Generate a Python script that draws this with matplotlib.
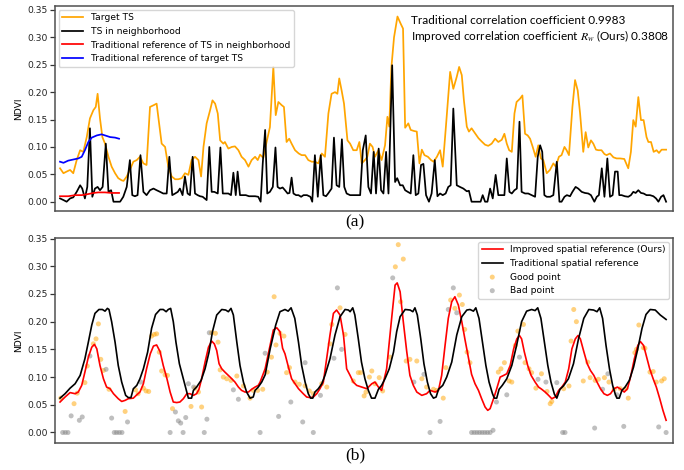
import matplotlib
matplotlib.use("Agg")
import matplotlib.pyplot as plt

# ---------------- data (time index, NDVI) ----------------
target_ts = [(0,0.061),(1.3,0.052),(2.5,0.055),(3.8,0.058),(5.0,0.052),(6.3,0.076),(7.6,0.094),(8.8,0.091),
 (10.1,0.118),(11.3,0.152),(12.6,0.167),(13.5,0.173),(14.2,0.197),(15.1,0.152),(16.0,0.118),(17.0,0.106),
 (18.3,0.082),(19.5,0.064),(20.8,0.052),(22.0,0.043),(23.3,0.039),(24.0,0.038),(25.2,0.046),(26.4,0.058),
 (27.7,0.073),(29.0,0.076),(30.2,0.082),(31.5,0.070),(32.7,0.067),(34.0,0.173),(35.3,0.176),(36.5,0.179),
 (38.4,0.106),(39.7,0.100),(40.9,0.064),(42.2,0.046),(43.5,0.041),(44.7,0.041),(46.0,0.043),(47.2,0.052),
 (48.5,0.049),(49.7,0.076),(51.0,0.082),(52.3,0.076),(53.3,0.046),(54.2,0.100),(55.4,0.143),(56.7,0.167),
 (57.6,0.185),(58.6,0.179),(59.6,0.161),(60.5,0.112),(61.7,0.106),(62.3,0.109),(63.6,0.097),(64.9,0.100),
 (66.1,0.101),(67.4,0.094),(68.6,0.082),(69.9,0.076),(71.2,0.064),(72.4,0.076),(73.7,0.082),(74.7,0.076),
 (75.6,0.086),(76.8,0.080),(78.1,0.110),(79.3,0.136),(80.6,0.246),(81.5,0.158),(82.5,0.182),(83.8,0.176),
 (84.6,0.173),(85.6,0.109),(86.6,0.115),(87.5,0.106),(88.8,0.094),(90.2,0.088),(91.3,0.085),(92.6,0.085),
 (93.8,0.076),(95.1,0.073),(96.3,0.073),(97.6,0.070),(98.9,0.088),(100.1,0.082),(101.4,0.161),(102.6,0.197),
 (103.9,0.200),(104.8,0.197),(105.5,0.225),(106.4,0.203),(107.3,0.179),(108.6,0.112),(109.6,0.106),
 (110.8,0.094),(112.1,0.094),(113.1,0.109),(114.0,0.070),(115.2,0.076),(116.1,0.082),(117.1,0.106),
 (118.1,0.100),(119.0,0.082),(120.3,0.094),(121.5,0.076),(122.8,0.103),(123.7,0.155),(124.4,0.137),
 (125.2,0.245),(126.2,0.300),(127.5,0.338),(128.7,0.325),(129.6,0.316),(130.4,0.135),(131.6,0.143),
 (132.5,0.131),(133.8,0.129),(134.8,0.128),(135.8,0.070),(136.7,0.095),(137.7,0.085),(139.0,0.082),
 (140.2,0.076),(141.1,0.073),(142.4,0.082),(143.6,0.094),(144.6,0.064),(145.8,0.137),(147.4,0.237),
 (148.6,0.206),(149.9,0.228),(150.8,0.246),(151.8,0.231),(152.6,0.185),(153.7,0.137),(154.5,0.128),
 (155.5,0.134),(156.8,0.125),(158.1,0.116),(159.3,0.110),(160.6,0.104),(161.8,0.102),(163.1,0.106),
 (164.4,0.115),(165.6,0.109),(166.9,0.113),(167.9,0.124),(168.8,0.106),(169.7,0.094),(170.7,0.091),
 (171.7,0.161),(172.5,0.182),(173.8,0.188),(174.7,0.194),(175.7,0.124),(176.7,0.121),(177.6,0.115),
 (178.6,0.100),(179.7,0.082),(180.7,0.103),(181.7,0.079),(182.6,0.076),(183.9,0.052),(185.1,0.058),
 (186.4,0.070),(187.3,0.064),(188.5,0.082),(189.5,0.085),(190.6,0.100),(191.4,0.094),(192.3,0.085),
 (193.6,0.173),(194.6,0.222),(195.6,0.203),(196.5,0.161),(197.7,0.091),(198.6,0.127),(199.6,0.099),
 (200.6,0.112),(201.5,0.106),(202.5,0.095),(203.4,0.094),(204.6,0.094),(205.7,0.087),(206.5,0.085),
 (207.8,0.088),(209.1,0.081),(210.3,0.079),(211.6,0.079),(213.2,0.078),(214.7,0.061),(215.7,0.091),
 (216.6,0.149),(217.5,0.137),(218.5,0.191),(219.5,0.149),(220.5,0.149),(221.6,0.118),(222.3,0.109),
 (223.3,0.109),(224.3,0.091),(225.4,0.094),(226.3,0.089),(227.3,0.095),(229.0,0.095)]

neighbor_ts = [(0,0.006),(1.3,0.003),(2.5,0),(3.8,0.006),(5.0,0.008),(6.3,0.018),(7.6,0.030),(8.4,0.024),
 (9.4,0.006),(10.3,0.027),(11.3,0.134),(12.2,0.009),(13.2,0.024),(14.2,0.027),(15.1,0.021),(16.1,0.027),
 (17.3,0.106),(18.3,0.018),(19.3,0.021),(20.2,0),(21.4,0),(22.7,0),(23.9,0.009),(25.2,0.027),(26.4,0.076),
 (27.3,0.012),(28.3,0.010),(29.3,0.012),(30.4,0.085),(31.5,0.018),(32.7,0.012),(34.0,0.021),(35.3,0.024),
 (36.5,0.021),(37.8,0.018),(39.0,0.015),(40.3,0.015),(41.3,0.082),(42.4,0.012),(43.5,0.015),(44.5,0.018),
 (45.3,0.024),(46.3,0.012),(47.2,0.046),(48.2,0.015),(49.1,0.012),(50.1,0.082),(51.0,0.015),(52.0,0.012),
 (52.9,0.010),(53.9,0.009),(55.4,0.003),(56.4,0.100),(57.3,0.018),(58.3,0.018),(59.6,0.015),(60.6,0.099),
 (61.5,0.015),(62.6,0.015),(63.6,0.015),(64.6,0.012),(65.5,0.053),(66.4,0.012),(67.1,0.055),(68.0,0.012),
 (69.0,0.012),(70.2,0.012),(71.4,0.010),(72.7,0.010),(73.7,0.010),(74.9,0.009),(75.8,0),(76.6,0.070),
 (77.5,0.131),(78.3,0.015),(79.3,0.018),(80.4,0.027),(81.4,0.099),(82.2,0.027),(83.1,0.024),(84.1,0.026),
 (85.0,0.021),(86.0,0.015),(86.7,0.016),(87.5,0.044),(88.2,0.015),(89.2,0.012),(90.1,0.012),(91.1,0.009),
 (92.0,0.012),(93.3,0.012),(94.6,0.009),(95.3,0),(96.3,0.085),(97.4,0.009),(98.5,0.085),(99.5,0.012),
 (100.5,0.010),(101.3,0.015),(102.6,0.024),(103.5,0.117),(104.5,0.030),(105.5,0.027),(106.5,0.114),
 (107.4,0.027),(108.3,0.015),(109.6,0.012),(110.8,0.012),(112.1,0.012),(113.4,0.012),(114.4,0.094),
 (115.5,0.121),(116.5,0.027),(117.5,0.015),(118.5,0.091),(119.4,0.015),(120.4,0.097),(121.3,0.021),
 (122.2,0.015),(123.2,0.091),(124.1,0.015),(125.5,0.249),(126.6,0.036),(127.4,0.043),(128.5,0.030),
 (129.5,0.030),(130.4,0.021),(131.4,0.018),(132.5,0.015),(133.5,0.085),(134.4,0.012),(135.4,0.015),
 (136.4,0.067),(137.3,0.069),(138.3,0.012),(139.4,0),(140.4,0.015),(141.6,0.076),(142.6,0.010),
 (143.6,0.015),(144.6,0.012),(145.7,0.015),(146.7,0.027),(147.6,0.030),(148.6,0.170),(149.9,0.030),
 (151.1,0.027),(152.4,0.024),(153.7,0.019),(154.5,0.020),(155.5,0),(156.8,0),(158.1,0),(158.9,0),
 (159.7,0.012),(160.6,0),(161.5,0),(162.5,0.024),(163.5,0.006),(164.6,0.049),(165.6,0.012),(166.9,0.012),
 (167.9,0.012),(168.8,0.079),(169.8,0.018),(170.7,0.015),(171.7,0.021),(172.6,0.024),(173.6,0.146),
 (174.4,0.018),(175.7,0.015),(176.9,0.015),(178.2,0.012),(179.5,0.009),(180.5,0.082),(181.4,0.103),
 (182.2,0.091),(183.0,0.012),(183.9,0.009),(185.2,0.009),(186.4,0.012),(187.7,0.073),(188.7,0),(189.5,0),
 (190.6,0.009),(191.5,0.012),(192.7,0.010),(193.6,0.018),(194.8,0.027),(195.8,0.024),(197.1,0.018),
 (198.3,0.016),(199.6,0.015),(200.6,0.012),(201.9,0),(202.8,0.009),(203.6,0.012),(204.7,0.061),
 (205.7,0.009),(206.8,0.079),(207.8,0.009),(208.8,0.012),(209.7,0.055),(210.7,0.055),(211.3,0.012),
 (212.2,0.012),(213.4,0.010),(214.7,0.009),(215.7,0.012),(216.6,0.018),(217.5,0.016),(218.5,0.021),
 (219.5,0.016),(220.5,0.015),(221.6,0.012),(222.9,0.012),(224.2,0.010),(225.2,0.006),(226.1,0),
 (227.1,0.009),(228.0,0.012),(229.0,0)]

trad_ref_neighbor = [(0,0.010),(3.1,0.010),(5.7,0.012),(8.2,0.012),(10.7,0.014),(12.6,0.016),(14.5,0.017),
 (17.0,0.017),(19.5,0.016),(22.3,0.016)]

trad_ref_target = [(0,0.073),(1.3,0.071),(3.1,0.075),(5.0,0.077),(6.9,0.079),(8.2,0.082),(9.4,0.094),
 (10.7,0.109),(12.0,0.117),(13.9,0.121),(15.7,0.123),(17.0,0.121),(18.9,0.118),(20.8,0.117),(22.3,0.115)]

improved_ref = [(0,0.055),(1.9,0.064),(3.8,0.072),(5.7,0.070),(6.9,0.073),(8.2,0.085),(9.4,0.109),(10.7,0.136),
 (12.0,0.154),(13.0,0.159),(13.9,0.151),(15.1,0.121),(16.4,0.097),(17.6,0.082),(18.9,0.079),(20.2,0.070),
 (22.0,0.061),(23.3,0.056),(24.6,0.058),(25.8,0.061),(27.7,0.062),(29.0,0.068),(30.2,0.073),(31.5,0.088),
 (32.7,0.115),(34.1,0.142),(35.3,0.156),(36.5,0.158),(37.8,0.146),(39.0,0.121),(40.4,0.097),(41.6,0.073),
 (42.8,0.055),(44.1,0.054),(45.3,0.055),(46.6,0.061),(47.9,0.070),(49.1,0.070),(50.4,0.067),(51.6,0.070),
 (52.5,0.078),(53.5,0.097),(54.8,0.127),(56.1,0.154),(57.3,0.165),(58.3,0.160),(59.2,0.148),(60.1,0.124),
 (61.1,0.115),(62.3,0.109),(63.6,0.103),(64.9,0.097),(66.1,0.091),(67.4,0.082),(68.6,0.076),(69.9,0.073),
 (71.2,0.073),(72.4,0.078),(73.7,0.082),(74.9,0.085),(75.6,0.091),(77.5,0.115),(79.4,0.158),(80.6,0.185),
 (81.9,0.189),(83.1,0.182),(84.1,0.152),(85.0,0.142),(86.3,0.118),(87.5,0.097),(88.8,0.088),(90.1,0.079),
 (91.9,0.070),(93.2,0.064),(94.5,0.063),(95.7,0.064),(97.0,0.070),(98.2,0.079),(99.5,0.091),(102.0,0.176),
 (103.3,0.215),(104.5,0.221),(105.8,0.212),(107.1,0.176),(108.3,0.115),(109.6,0.103),(110.8,0.091),
 (112.1,0.085),(114.0,0.082),(115.9,0.079),(117.8,0.088),(119.0,0.091),(120.3,0.082),(121.5,0.076),
 (123.4,0.115),(125.3,0.206),(126.6,0.266),(127.4,0.270),(128.5,0.254),(129.7,0.200),(131.0,0.146),
 (132.2,0.103),(133.5,0.085),(134.8,0.073),(136.7,0.067),(138.5,0.070),(139.8,0.076),(141.7,0.073),
 (143.0,0.076),(144.2,0.103),(145.5,0.158),(146.7,0.206),(148.0,0.236),(149.2,0.245),(150.5,0.230),
 (151.8,0.200),(153.0,0.168),(154.3,0.135),(155.5,0.105),(156.8,0.088),(158.1,0.076),(159.3,0.061),
 (160.6,0.046),(161.6,0.040),(162.5,0.043),(163.8,0.061),(165.0,0.079),(166.3,0.100),(167.6,0.103),
 (168.8,0.106),(170.1,0.121),(171.4,0.151),(172.6,0.169),(173.6,0.175),(174.4,0.169),(175.4,0.146),
 (176.7,0.121),(178.0,0.103),(179.5,0.091),(180.8,0.082),(182.0,0.078),(183.3,0.073),(184.6,0.067),
 (185.8,0.061),(187.1,0.064),(188.4,0.076),(189.6,0.082),(190.9,0.091),(192.2,0.115),(193.4,0.151),
 (194.7,0.169),(195.7,0.175),(196.6,0.169),(197.9,0.146),(199.2,0.124),(200.4,0.112),(201.7,0.103),
 (202.9,0.091),(204.2,0.079),(205.5,0.070),(206.8,0.067),(208.0,0.070),(209.3,0.079),(210.6,0.082),
 (211.9,0.078),(213.2,0.073),(214.4,0.079),(215.7,0.103),(217.0,0.133),(218.3,0.157),(219.3,0.164),
 (220.5,0.157),(221.5,0.139),(222.8,0.115),(224.1,0.097),(225.3,0.082),(226.6,0.061),(227.8,0.040),
 (229.0,0.022)]

traditional_ref = [(0,0.062),(1.9,0.070),(3.8,0.080),(5.7,0.088),(7.6,0.103),(9.4,0.133),(10.7,0.163),
 (12.0,0.194),(13.2,0.215),(14.7,0.222),(16.0,0.222),(17.0,0.219),(17.9,0.224),(18.5,0.222),(19.5,0.200),
 (20.8,0.163),(22.0,0.121),(23.3,0.091),(24.8,0.067),(25.8,0.063),(26.8,0.063),(27.7,0.079),(29.0,0.085),
 (30.2,0.097),(31.5,0.115),(33.1,0.145),(34.6,0.188),(36.1,0.213),(37.8,0.222),(39.0,0.222),(40.1,0.218),
 (40.9,0.222),(41.8,0.224),(42.8,0.200),(43.8,0.163),(45.1,0.124),(46.6,0.097),(47.9,0.073),(48.5,0.062),
 (49.7,0.062),(50.4,0.076),(51.6,0.082),(53.3,0.094),(54.8,0.115),(56.3,0.145),(57.6,0.182),(59.2,0.212),
 (61.1,0.222),(62.6,0.221),(63.6,0.218),(64.6,0.224),(65.5,0.212),(66.8,0.163),(68.0,0.121),(69.3,0.091),
 (70.5,0.073),(71.8,0.062),(73.0,0.064),(73.7,0.076),(74.9,0.082),(76.2,0.091),(77.5,0.104),(79.4,0.151),
 (81.5,0.194),(83.1,0.218),(85.0,0.222),(86.2,0.219),(87.3,0.225),(88.7,0.206),(90.1,0.163),(91.3,0.121),
 (92.6,0.091),(93.8,0.070),(94.7,0.062),(95.5,0.062),(96.3,0.073),(97.6,0.079),(98.9,0.088),(100.1,0.103),
 (102.0,0.133),(103.9,0.176),(105.8,0.209),(107.7,0.222),(109.0,0.221),(109.6,0.218),(110.6,0.225),
 (111.4,0.212),(112.7,0.169),(113.9,0.127),(115.2,0.097),(116.5,0.076),(117.7,0.062),(119.0,0.062),
 (120.3,0.078),(121.5,0.085),(122.8,0.097),(124.4,0.115),(126.0,0.145),(127.2,0.182),(128.5,0.209),
 (130.4,0.222),(132.3,0.221),(133.3,0.218),(134.1,0.225),(135.0,0.212),(136.3,0.169),(137.5,0.124),
 (138.8,0.091),(140.0,0.070),(141.1,0.062),(142.1,0.064),(143.0,0.078),(144.6,0.085),(146.1,0.100),
 (148.0,0.127),(149.9,0.176),(151.8,0.209),(153.7,0.221),(154.9,0.222),(156.2,0.219),(157.1,0.225),
 (158.3,0.206),(159.6,0.163),(160.9,0.121),(162.1,0.091),(163.4,0.070),(164.1,0.062),(165.0,0.062),
 (165.9,0.078),(167.1,0.085),(168.8,0.097),(170.7,0.121),(172.5,0.157),(174.4,0.200),(176.3,0.219),
 (178.2,0.222),(179.5,0.220),(180.5,0.225),(181.7,0.206),(183.0,0.163),(184.3,0.121),(185.5,0.091),
 (186.8,0.069),(187.7,0.062),(188.9,0.078),(190.2,0.084),(192.1,0.097),(194.0,0.124),(195.9,0.169),
 (197.9,0.206),(199.8,0.222),(201.6,0.221),(202.9,0.218),(203.9,0.225),(205.0,0.206),(206.3,0.157),
 (207.6,0.115),(208.8,0.085),(209.8,0.069),(210.4,0.062),(211.3,0.062),(212.3,0.076),(213.5,0.082),
 (215.1,0.094),(216.7,0.118),(218.3,0.151),(219.9,0.188),(221.4,0.213),(223.0,0.222),(224.9,0.221),
 (226.8,0.212),(229.0,0.204)]

good_points = [(0.3,0.062),(5.3,0.052),(6.5,0.071),(9.4,0.090),(10.3,0.120),(12.6,0.160),(13.6,0.169),
 (14.5,0.196),(15.4,0.132),(16.4,0.112),(18.5,0.078),(24.6,0.038),(28.5,0.077),(29.5,0.070),(31.5,0.080),
 (32.5,0.075),(33.5,0.074),(34.6,0.174),(35.6,0.177),(36.5,0.178),(37.5,0.145),(38.4,0.111),(39.7,0.104),
 (40.6,0.103),(42.5,0.043),(49.5,0.047),(51.0,0.080),(52.3,0.073),(53.5,0.046),(57.3,0.180),(58.7,0.179),
 (59.7,0.163),(60.5,0.113),(61.7,0.100),(63.0,0.097),(64.6,0.094),(66.8,0.102),(69.3,0.084),(71.8,0.062),
 (73.0,0.076),(74.7,0.076),(76.6,0.078),(78.3,0.109),(79.9,0.136),(80.9,0.245),(81.6,0.158),(83.1,0.179),
 (84.6,0.174),(85.6,0.108),(86.7,0.117),(88.8,0.091),(90.4,0.087),(92.6,0.084),(94.2,0.075),(95.7,0.070),
 (98.9,0.088),(100.8,0.082),(102.0,0.160),(102.7,0.195),(105.8,0.225),(107.7,0.177),(110.8,0.093),
 (112.7,0.108),(113.6,0.108),(114.9,0.066),(115.6,0.073),(116.9,0.100),(117.8,0.111),(119.0,0.088),
 (120.6,0.099),(121.9,0.075),(124.7,0.136),(126.7,0.299),(127.8,0.339),(128.7,0.236),(129.7,0.313),
 (130.8,0.129),(132.2,0.132),(134.8,0.129),(136.7,0.097),(138.5,0.082),(141.1,0.078),(142.3,0.076),
 (144.8,0.062),(145.8,0.117),(147.6,0.239),(149.2,0.224),(150.9,0.248),(152.0,0.231),(152.9,0.186),
 (153.8,0.145),(154.9,0.126),(165.6,0.109),(166.6,0.115),(167.9,0.126),(169.7,0.093),(170.7,0.091),
 (172.0,0.157),(173.0,0.183),(175.1,0.195),(175.7,0.126),(177.2,0.115),(178.2,0.108),(179.8,0.080),
 (181.9,0.106),(184.0,0.074),(185.2,0.052),(185.8,0.056),(190.3,0.079),(192.3,0.084),(193.1,0.165),
 (194.1,0.222),(195.1,0.200),(197.7,0.093),(199.4,0.127),(200.3,0.099),(202.2,0.094),(203.4,0.096),
 (205.7,0.099),(207.4,0.091),(209.4,0.078),(211.7,0.079),(213.8,0.079),(214.7,0.062),(217.2,0.144),
 (217.8,0.150),(218.7,0.194),(220.4,0.153),(221.0,0.152),(222.9,0.109),(224.1,0.110),(225.3,0.091),
 (227.3,0.093),(228.3,0.097)]

bad_points = [(1,0),(2,0),(3,0),(4.2,0.030),(7.3,0.022),(8.4,0.028),(11.3,0.138),(17.4,0.114),(19.5,0.026),
 (20.5,0),(21.4,0),(22.4,0),(23.4,0),(25.5,0.019),(30.5,0.091),(41.6,0),(43.6,0.037),(44.7,0.021),
 (45.6,0.017),(46.5,0),(47.5,0.027),(48.5,0.088),(50.5,0.082),(54.5,0),(55.5,0.024),(56.4,0.180),
 (65.5,0.077),(67.4,0.060),(75.6,0),(77.5,0.143),(82.6,0.029),(87.2,0.055),(91.7,0.019),(92.6,0.126),
 (95.7,0),(98.4,0.067),(103.5,0.134),(104.8,0.261),(106.4,0.150),(125.7,0.279),(133.7,0.091),
 (137.5,0.105),(139.8,0),(143.6,0.020),(146.7,0.222),(148.6,0.261),(149.9,0.216),(155.5,0),(156.5,0),
 (157.5,0),(158.5,0),(159.5,0),(160.5,0),(161.5,0),(162.5,0),(163.6,0.004),(164.9,0.055),(168.8,0.068),
 (173.6,0.136),(180.6,0.096),(183.6,0.091),(187.7,0.090),(189.9,0),(190.8,0),(202.0,0.008),(205.0,0.078),
 (207.0,0.106),(210.4,0.068),(213.0,0.011),(226.2,0.010),(229.0,0)]

y_ticks = [0.00, 0.05, 0.10, 0.15, 0.20, 0.25, 0.30, 0.35]
corr_traditional = "0.9983"
corr_improved = "0.3808"

def xs(pairs):
    return [p[0] for p in pairs]

def ys(pairs):
    return [p[1] for p in pairs]

# ---------------- figure ----------------
plt.rcParams['font.family'] = ['DejaVu Sans']
plt.rcParams['mathtext.fontset'] = 'stix'
FS = 6.6
SPINE = '#505050'

fig = plt.figure(figsize=(6.84, 4.70), dpi=100)
ax1 = fig.add_axes([0.0804, 0.551, 0.9035, 0.436])
ax2 = fig.add_axes([0.0804, 0.0574, 0.9035, 0.4362])

lw = 1.25
ax1.plot(xs(target_ts), ys(target_ts), color='orange', lw=lw, label='Target TS')
ax1.plot(xs(neighbor_ts), ys(neighbor_ts), color='black', lw=lw, label='TS in neighborhood')
ax1.plot(xs(trad_ref_neighbor), ys(trad_ref_neighbor), color='red', lw=lw,
         label='Traditional reference of TS in neighborhood')
ax1.plot(xs(trad_ref_target), ys(trad_ref_target), color='blue', lw=lw,
         label='Traditional reference of target TS')
ax1.set_ylim(-0.017, 0.357)

ax1.legend(loc='upper left', fontsize=FS, handlelength=2.3, borderaxespad=0.4,
           labelspacing=0.5, framealpha=0.8)

txt_font = dict(family=['Lato', 'DejaVu Sans'], fontsize=8.5)
ax1.text(0.576, 0.932, 'Traditional correlation coefficient ' + corr_traditional,
         transform=ax1.transAxes, ha='left', va='center', **txt_font)
ax1.text(0.576, 0.854, 'Improved correlation coefficient $R_w$ (Ours) ' + corr_improved,
         transform=ax1.transAxes, ha='left', va='center', **txt_font)

ax2.plot(xs(improved_ref), ys(improved_ref), color='red', lw=1.2,
         label='Improved spatial reference (Ours)')
ax2.plot(xs(traditional_ref), ys(traditional_ref), color='black', lw=1.2,
         label='Traditional spatial reference')
ax2.scatter(xs(good_points), ys(good_points), s=13, color='orange', alpha=0.5,
            edgecolors='none', label='Good point')
ax2.scatter(xs(bad_points), ys(bad_points), s=13, color='grey', alpha=0.5,
            edgecolors='none', label='Bad point')
ax2.set_ylim(-0.019, 0.351)
ax2.legend(loc='upper right', fontsize=FS, handlelength=2.3, borderaxespad=0.4,
           labelspacing=0.5, framealpha=0.8)

for ax in (ax1, ax2):
    ax.set_xlim(-1.9, 231.6)
    ax.set_xticks([])
    ax.set_yticks(y_ticks)
    ax.set_yticklabels([f'{v:.2f}' for v in y_ticks])
    ax.tick_params(axis='y', labelsize=FS, length=3.5, width=0.9, pad=1.5, colors='#333333',
                   labelcolor='#222222')
    ax.set_ylabel('NDVI', fontsize=FS, labelpad=3)
    for sp in ax.spines.values():
        sp.set_color(SPINE)
        sp.set_linewidth(1.1)

fig.text(355 / 684, 1 - 222 / 470, '(a)', ha='center', va='center',
         family=['Liberation Serif'], fontsize=12.5)
fig.text(355 / 684, 1 - 455 / 470, '(b)', ha='center', va='center',
         family=['Liberation Serif'], fontsize=12.5)

fig.savefig('out.png', dpi=100)
